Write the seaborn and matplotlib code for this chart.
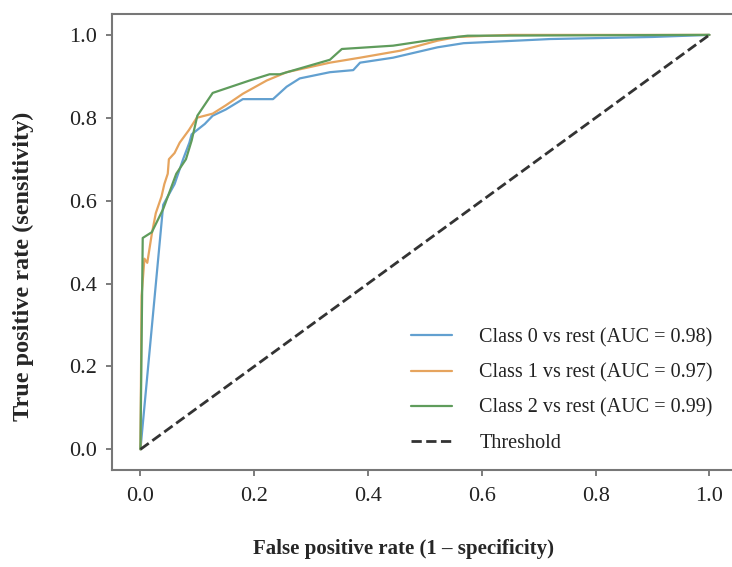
import matplotlib
matplotlib.use("Agg")
import matplotlib.pyplot as plt
import numpy as np
import pandas as pd
import seaborn as sns

# ROC points
fpr_class0 = [0, 0.04, 0.06, 0.075, 0.086, 0.09, 0.113, 0.127, 0.15, 0.18, 0.233, 0.257,
              0.28, 0.333, 0.374, 0.386, 0.444, 0.522, 0.568, 0.72, 0.9, 1.0]
tpr_class0 = [0, 0.59, 0.64, 0.70, 0.74, 0.76, 0.785, 0.805, 0.82, 0.845, 0.845, 0.875,
              0.895, 0.91, 0.915, 0.933, 0.945, 0.97, 0.98, 0.99, 0.995, 1.0]

fpr_class1 = [0, 0.002, 0.007, 0.012, 0.02, 0.027, 0.037, 0.042, 0.048, 0.05, 0.06, 0.069,
              0.085, 0.099, 0.127, 0.15, 0.18, 0.222, 0.257, 0.333, 0.386, 0.457, 0.522,
              0.557, 0.65, 1.0]
tpr_class1 = [0, 0.37, 0.46, 0.45, 0.52, 0.57, 0.61, 0.64, 0.665, 0.70, 0.715, 0.74,
              0.77, 0.80, 0.81, 0.83, 0.858, 0.89, 0.91, 0.933, 0.945, 0.962, 0.986,
              0.995, 1.0, 1.0]

fpr_class2 = [0, 0.004, 0.02, 0.04, 0.063, 0.08, 0.09, 0.10, 0.127, 0.192, 0.227, 0.245,
              0.333, 0.354, 0.444, 0.522, 0.575, 1.0]
tpr_class2 = [0, 0.51, 0.524, 0.58, 0.665, 0.70, 0.745, 0.805, 0.86, 0.89, 0.905, 0.905,
              0.94, 0.966, 0.974, 0.99, 0.998, 1.0]

threshold_x = [0, 1]
threshold_y = [0, 1]

labels = ["Class 0 vs rest (AUC = 0.98)",
          "Class 1 vs rest (AUC = 0.97)",
          "Class 2 vs rest (AUC = 0.99)"]
colors = ["#62a0d0", "#e6a45e", "#5f9c5c"]

sns.set_theme(style="white")
plt.rcParams["font.family"] = ["Liberation Serif", "DejaVu Serif"]

frames = []
for lab, fx, ty in zip(labels, [fpr_class0, fpr_class1, fpr_class2],
                       [tpr_class0, tpr_class1, tpr_class2]):
    frames.append(pd.DataFrame({"fpr": fx, "tpr": ty, "curve": lab}))
df = pd.concat(frames, ignore_index=True)

fig = plt.figure(figsize=(7.32, 5.67), dpi=100)
ax = fig.add_axes([0.153, 0.171, 0.855, 0.804])

sns.lineplot(data=df, x="fpr", y="tpr", hue="curve", palette=colors,
             sort=False, estimator=None, linewidth=1.6, ax=ax)
sns.lineplot(x=threshold_x, y=threshold_y, color="#333333", linestyle="--",
             linewidth=2.0, label="Threshold", ax=ax)

ticks = np.arange(0, 1.01, 0.2)
ax.set_xlim(-0.05, 1.05)
ax.set_ylim(-0.05, 1.05)
ax.set_xticks(ticks)
ax.set_yticks(ticks)
ax.set_xticklabels([f"{v:.1f}" for v in ticks])
ax.set_yticklabels([f"{v:.1f}" for v in ticks])
ax.tick_params(axis="both", which="major", labelsize=16, length=4, width=1.2,
               color="#666666", labelcolor="#222222", bottom=True, left=True)
ax.tick_params(axis="x", pad=8)
ax.tick_params(axis="y", pad=7)
for sp in ax.spines.values():
    sp.set_color("#777777")
    sp.set_linewidth(1.5)

ax.set_xlabel("False positive rate (1 \u2013 specificity)", fontsize=15,
              fontweight="bold")
ax.set_ylabel("True positive rate (sensitivity)", fontsize=17.5,
              fontweight="bold")
ax.xaxis.set_label_coords(0.466, -0.152)
ax.yaxis.set_label_coords(-0.124, 0.447)

leg = ax.legend(loc="lower right", frameon=False, fontsize=14.5, labelspacing=0.8,
                handlelength=2.05, handletextpad=1.35, borderpad=0, borderaxespad=0,
                bbox_to_anchor=(0.96, 0.037))
for t in leg.get_texts():
    t.set_color("#222222")

fig.savefig("out.png", dpi=100)
